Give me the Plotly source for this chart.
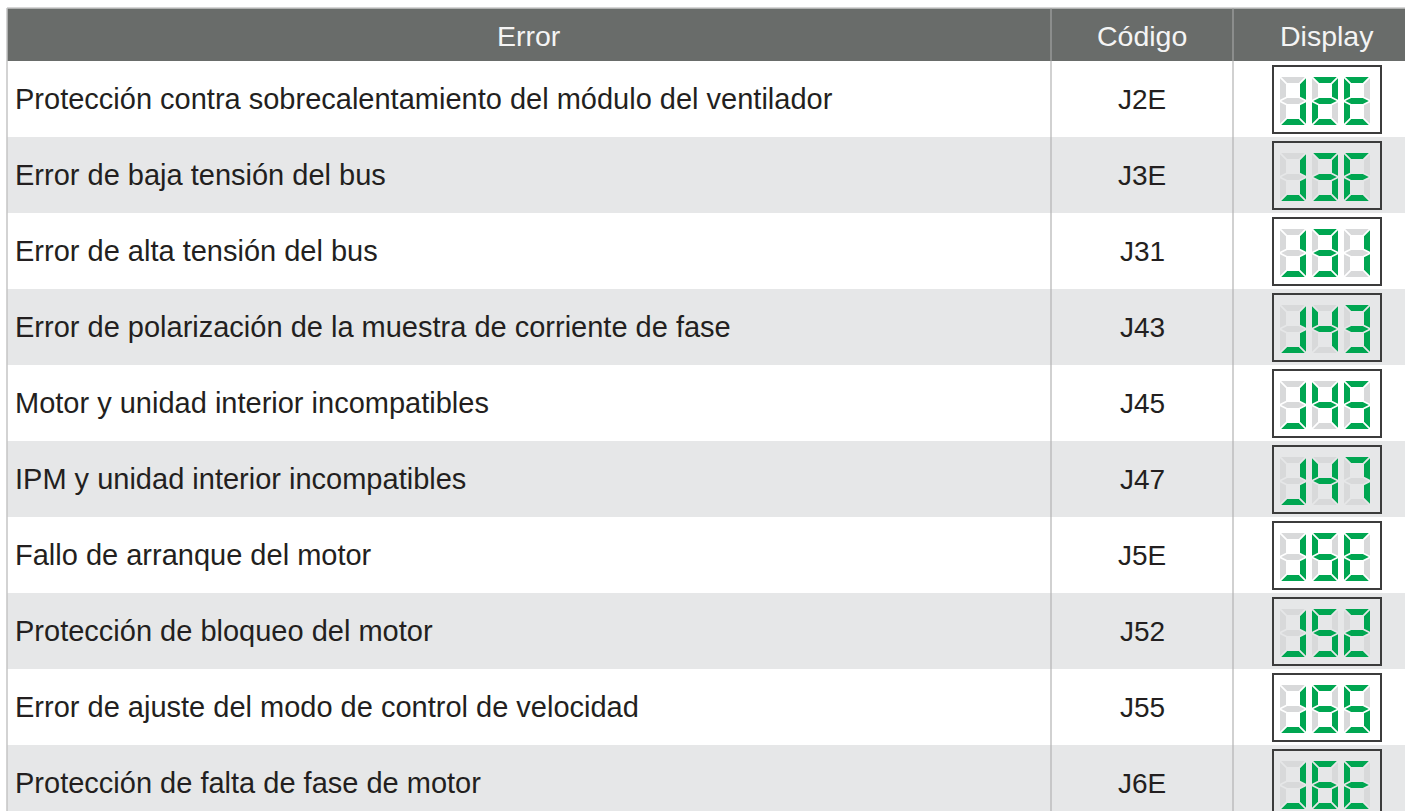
import plotly.graph_objects as go

# ---------------- data ----------------
headers = ["Error", "Código", "Display"]
errors = [
    "Protección contra sobrecalentamiento del módulo del ventilador",
    "Error de baja tensión del bus",
    "Error de alta tensión del bus",
    "Error de polarización de la muestra de corriente de fase",
    "Motor y unidad interior incompatibles",
    "IPM y unidad interior incompatibles",
    "Fallo de arranque del motor",
    "Protección de bloqueo del motor",
    "Error de ajuste del modo de control de velocidad",
    "Protección de falta de fase de motor",
]
codes = ["J2E", "J3E", "J31", "J43", "J45", "J47", "J5E", "J52", "J55", "J6E"]

# seven-segment "font": which segments are lit per character
SEGMENTS = {
    "J": "bcd", "E": "afged", "1": "bc", "2": "abged", "3": "abgcd",
    "4": "fgbc", "5": "afgcd", "6": "afgecd", "7": "abc",
}

# ---------------- layout constants ----------------
W, H = 1405, 811
X0, X1, X2, X3 = 7, 1051, 1233, 1421
HEAD_TOP, HEAD_BOT = 8, 61
ROW_H = 76
GREY_ROW = "#e6e7e8"
HEAD_BG = "#696c6a"
GREEN = "#00a651"
OFF = "#d8d9da"
FONT = "Liberation Sans, Arial, sans-serif"
TXT = "#231f20"

fig = go.Figure()
shapes = []
annotations = []

# header
shapes.append(dict(type="rect", x0=X0, x1=X3, y0=HEAD_TOP, y1=HEAD_BOT, xref="x", yref="y",
                   fillcolor=HEAD_BG, line=dict(width=0), layer="below"))
shapes.append(dict(type="line", x0=X0, x1=X3, y0=HEAD_TOP, y1=HEAD_TOP, xref="x", yref="y",
                   line=dict(color="#c9c9c9", width=1.5), layer="below"))
for txt, (a, b) in zip(headers, [(X0, X1), (X1, X2), (X2, X3)]):
    annotations.append(dict(x=(a + b) / 2, y=(HEAD_TOP + HEAD_BOT) / 2 + 1, xref="x", yref="y",
                            text=txt, showarrow=False, xanchor="center", yanchor="middle",
                            font=dict(family=FONT, size=28.5, color="#f4f4f4")))

# rows
on_x, on_y, off_x, off_y = [], [], [], []
DW, DH, T, G = 26, 48, 6, 1.2


def seg_polys(ox, oy):
    m = DH / 2
    return {
        "a": [(ox + G, oy), (ox + DW - G, oy), (ox + DW - G - T, oy + T), (ox + G + T, oy + T)],
        "d": [(ox + G, oy + DH), (ox + DW - G, oy + DH), (ox + DW - G - T, oy + DH - T), (ox + G + T, oy + DH - T)],
        "f": [(ox, oy + G), (ox + T, oy + T + G), (ox + T, oy + m - T / 2 - G), (ox, oy + m - G)],
        "b": [(ox + DW, oy + G), (ox + DW - T, oy + T + G), (ox + DW - T, oy + m - T / 2 - G), (ox + DW, oy + m - G)],
        "e": [(ox, oy + m + G), (ox + T, oy + m + T / 2 + G), (ox + T, oy + DH - T - G), (ox, oy + DH - G)],
        "c": [(ox + DW, oy + m + G), (ox + DW - T, oy + m + T / 2 + G), (ox + DW - T, oy + DH - T - G), (ox + DW, oy + DH - G)],
        "g": [(ox + G, oy + m), (ox + G + T, oy + m - T / 2), (ox + DW - G - T, oy + m - T / 2),
              (ox + DW - G, oy + m), (ox + DW - G - T, oy + m + T / 2), (ox + G + T, oy + m + T / 2)],
    }


for i, (err, code) in enumerate(zip(errors, codes)):
    top = HEAD_BOT + i * ROW_H
    bot = top + ROW_H
    bg = GREY_ROW if i % 2 == 1 else "#ffffff"
    if i % 2 == 1:
        shapes.append(dict(type="rect", x0=X0, x1=X3, y0=top, y1=bot, xref="x", yref="y",
                           fillcolor=bg, line=dict(width=0), layer="below"))
    cy = (top + bot) / 2
    annotations.append(dict(x=X0 + 6, y=cy, xref="x", yref="y", text=err, showarrow=False,
                            xanchor="left", yanchor="middle",
                            font=dict(family=FONT, size=29, color=TXT)))
    annotations.append(dict(x=(X1 + X2) / 2, y=cy, xref="x", yref="y", text=code, showarrow=False,
                            xanchor="center", yanchor="middle",
                            font=dict(family=FONT, size=28, color=TXT)))
    # display box
    shapes.append(dict(type="rect", x0=1273, x1=1381, y0=top + 5, y1=top + 72, xref="x", yref="y",
                       fillcolor=bg, line=dict(color="#3c3c3c", width=2), layer="below"))
    for k, ch in enumerate(code):
        polys = seg_polys(1280 + k * 32, top + 16)
        lit = SEGMENTS[ch]
        for s, pts in polys.items():
            xs = [p[0] for p in pts] + [pts[0][0], None]
            ys = [p[1] for p in pts] + [pts[0][1], None]
            if s in lit:
                on_x += xs; on_y += ys
            else:
                off_x += xs; off_y += ys

# column separators and left border
shapes.append(dict(type="line", x0=X0, x1=X0, y0=HEAD_TOP, y1=H + 20, xref="x", yref="y",
                   line=dict(color="#c4c4c4", width=1.5), layer="below"))
for xs in (X1, X2):
    shapes.append(dict(type="line", x0=xs, x1=xs, y0=HEAD_TOP, y1=HEAD_BOT, xref="x", yref="y",
                       line=dict(color="#a3a5a4", width=1.2), layer="below"))
    shapes.append(dict(type="line", x0=xs, x1=xs, y0=HEAD_BOT, y1=H + 20, xref="x", yref="y",
                       line=dict(color="#b3b3b3", width=1.2), layer="below"))

fig.add_trace(go.Scatter(x=off_x, y=off_y, mode="lines", fill="toself", fillcolor=OFF,
                         line=dict(width=0, color=OFF), hoverinfo="skip", showlegend=False))
fig.add_trace(go.Scatter(x=on_x, y=on_y, mode="lines", fill="toself", fillcolor=GREEN,
                         line=dict(width=0, color=GREEN), hoverinfo="skip", showlegend=False))

fig.update_layout(
    width=W, height=H, margin=dict(l=0, r=0, t=0, b=0),
    paper_bgcolor="white", plot_bgcolor="white",
    shapes=shapes, annotations=annotations,
    xaxis=dict(range=[0, W], visible=False, fixedrange=True),
    yaxis=dict(range=[H, 0], visible=False, fixedrange=True),
)
fig.write_html(
    "out.html",
    config={"displayModeBar": False},
    post_script="document.body.style.margin='0px';document.body.style.overflow='hidden';",
)
